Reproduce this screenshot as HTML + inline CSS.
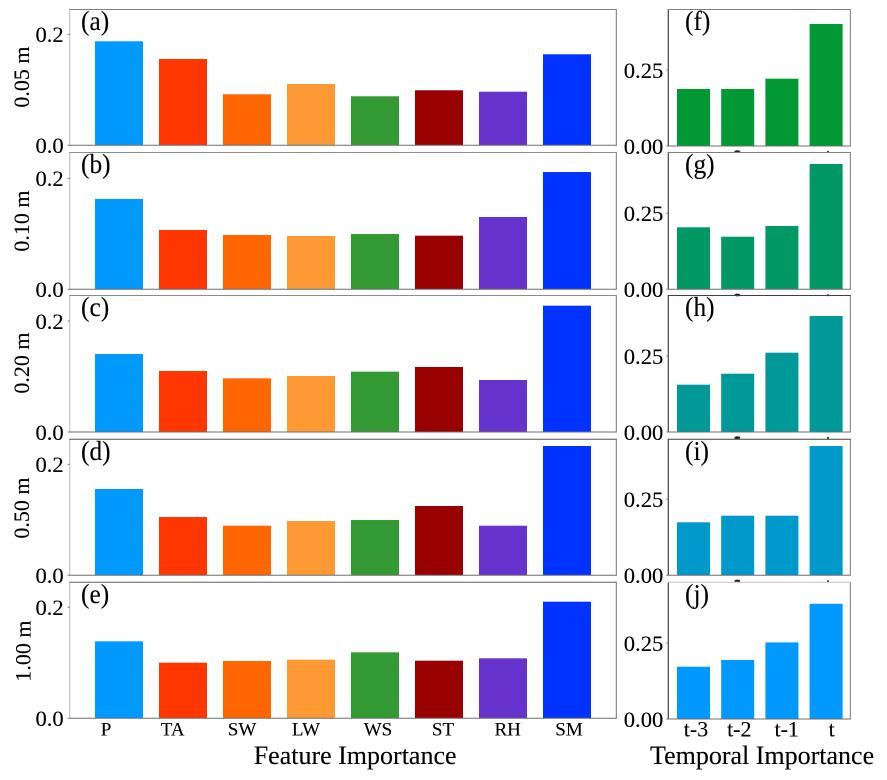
<!DOCTYPE html>
<html lang="en">
<head>
<meta charset="utf-8">
<title>Feature and Temporal Importance</title>
<style>
html,body{margin:0;padding:0;background:#fff;width:887px;height:780px;overflow:hidden}
svg{display:block;font-family:"Liberation Serif","Times New Roman",serif;fill:#000}
text{stroke:#000;stroke-width:0.12px}
</style>
</head>
<body>
<svg id="chart" xmlns="http://www.w3.org/2000/svg" width="887" height="780" viewBox="0 0 887 780"></svg>
<script>
// ---- data ----
const featureCategories = ['P','TA','SW','LW','WS','ST','RH','SM'];
const temporalCategories = ['t-3','t-2','t-1','t'];
const depthLabels = ['0.05 m','0.10 m','0.20 m','0.50 m','1.00 m'];
const featurePanelLetters = ['(a)','(b)','(c)','(d)','(e)'];
const temporalPanelLetters = ['(f)','(g)','(h)','(i)','(j)'];
const featureTicks = [0, 0.2];
const temporalTicks = [0, 0.25];
const featureTickLabels = ['0.0','0.2'];
const temporalTickLabels = ['0.00','0.25'];

const featureA = [0.1874,0.1555,0.0919,0.1105,0.0883,0.0991,0.0966,0.1640];
const featureB = [0.1627,0.1068,0.0978,0.0960,0.0996,0.0966,0.1303,0.2113];
const featureC = [0.1405,0.1099,0.0967,0.1009,0.1087,0.1171,0.0937,0.2276];
const featureD = [0.1555,0.1050,0.0894,0.0978,0.0996,0.1249,0.0894,0.2330];
const featureE = [0.1387,0.1002,0.1032,0.1056,0.1189,0.1038,0.1081,0.2101];

const temporalF = [0.1875,0.1875,0.2214,0.4013];
const temporalG = [0.2039,0.1730,0.2082,0.4122];
const temporalH = [0.1556,0.1918,0.2609,0.3816];
const temporalI = [0.1743,0.1960,0.1960,0.4253];
const temporalJ = [0.1720,0.1940,0.2520,0.3790];

// ---- layout ----
const featureColors = ['#0099ff','#ff3600','#ff6600','#ff9933','#339933','#990000','#6633cc','#0033ff'];
const temporalColors = ['#009933','#009966','#009999','#0099cc','#0099ff'];
const featureLabelNudge = [-13,-10.3,-5,-5,3,4,4.7,2];
const temporalLabelNudge = [2.5,1.6,4.8,5.6];
const panelTops = [9.5,152.5,295.5,439.3,582.3];
const featureBases = [145.3,289.3,432,575.3,718.3];
const temporalBases = [146,289.3,432,575.3,719];
const topSpineColors = ['#808080','#8c8c8c','#8c8c8c','#505050','#606060'];
const temporalTopColors = ['#808080','#808080','#404040','#404040','#c4c4c4'];
const depthCenters = [77,221,363,508,651];

const featureLayout = {left:69.7,right:616.3,first:119,step:64,barW:48,scale:555,tickEnd:63.7};
const temporalLayout = {left:668.3,right:850.3,first:693.5,step:44.2,barW:33,scale:304,tickEnd:663.3};

const svg = document.getElementById('chart');
const NS = 'http://www.w3.org/2000/svg';

function make(tag, attrs, parent){
  const el = document.createElementNS(NS, tag);
  for (const k in attrs) el.setAttribute(k, attrs[k]);
  (parent || svg).appendChild(el);
  return el;
}
function xScale(layout, i){ return layout.first + layout.step * i; }
function yScale(layout, base, v){ return base - v * layout.scale; }

function drawPanel(layout, values, color, base, top, ticks, tickLabels, letter, letterX, topColor, leftColor, key){
  const g = make('g', {});
  
  

  values.forEach(function(v, i){
    const x = xScale(layout, i) - layout.barW / 2;
    const y = yScale(layout, base, v);
    const bar = make('rect', {x:x, y:y, width:layout.barW, height:base - y, fill:Array.isArray(color) ? color[i] : color}, g);
    
    
  });

  const leftSpine = make('line', {x1:layout.left, y1:top, x2:layout.left, y2:base, stroke:leftColor, 'stroke-width':1.2}, g);
  
  
  const rightSpine = make('line', {x1:layout.right, y1:top, x2:layout.right, y2:base, stroke:'#777', 'stroke-width':1}, g);
  
  
  const topSpine = make('line', {x1:layout.left - 0.5, y1:top, x2:layout.right + 0.5, y2:top, stroke:topColor, 'stroke-width':1}, g);
  
  
  const bottomSpine = make('line', {x1:layout.left - 0.5, y1:base, x2:layout.right + 0.5, y2:base, stroke:'#6e6e6e', 'stroke-width':1}, g);
  
  

  ticks.forEach(function(t, i){
    const y = yScale(layout, base, t);
    const mark = make('line', {x1:layout.left - 2, y1:y, x2:layout.left, y2:y, stroke:'#777', 'stroke-width':1}, g);
    
    
    const label = make('text', {x:layout.tickEnd, y:y + 7.8, 'text-anchor':'end', 'font-size':22.6}, g);
    label.textContent = tickLabels[i];
    
    
  });

  const tag = make('text', {x:0, y:0, 'font-size':27, transform:'translate(' + letterX + ' ' + (top + 20.5) + ') scale(0.94 1)'}, g);
  tag.textContent = letter;
  
  
}

featurePanelLetters.forEach(function(letter, p){
  const series = [featureA, featureB, featureC, featureD, featureE][p];
  drawPanel(featureLayout, series, featureColors, featureBases[p], panelTops[p], featureTicks, featureTickLabels, letter, 81, topSpineColors[p], '#c4c4c4', 'feature-' + letter.charAt(1));
  const yl = make('text', {x:0, y:0, 'text-anchor':'middle', 'font-size':22, transform:'translate(' + (p === 4 ? 30.5 : 29) + ' ' + depthCenters[p] + ') rotate(-90)'});
  yl.textContent = depthLabels[p];
  
  
});

temporalPanelLetters.forEach(function(letter, p){
  const series = [temporalF, temporalG, temporalH, temporalI, temporalJ][p];
  drawPanel(temporalLayout, series, temporalColors[p], temporalBases[p], panelTops[p], temporalTicks, temporalTickLabels, letter, 685, temporalTopColors[p], '#444', 'temporal-' + letter.charAt(1));
  if (p < 4) {
    const bumpA = make('ellipse', {cx:737.3, cy:temporalBases[p] + 5.7, rx:3, ry:1.4, fill:'#222'});
    
    
    const bumpB = make('ellipse', {cx:828, cy:temporalBases[p] + 5.9, rx:1, ry:1.1, fill:'#222'});
    
    
  }
});

featureCategories.forEach(function(c, i){
  const t = make('text', {x:xScale(featureLayout, i) + featureLabelNudge[i], y:735.5, 'text-anchor':'middle', 'font-size':19});
  t.textContent = c;
  
  
});
temporalCategories.forEach(function(c, i){
  const t = make('text', {x:xScale(temporalLayout, i) + temporalLabelNudge[i], y:736.5, 'text-anchor':'middle', 'font-size':22}); 
  t.textContent = c;
  
  
});

const featureTitle = make('text', {x:253.7, y:764, 'font-size':26});
featureTitle.textContent = 'Feature Importance';



const temporalTitle = make('text', {x:650, y:764, 'font-size':26});
temporalTitle.textContent = 'Temporal Importance';


</script>
</body>
</html>
